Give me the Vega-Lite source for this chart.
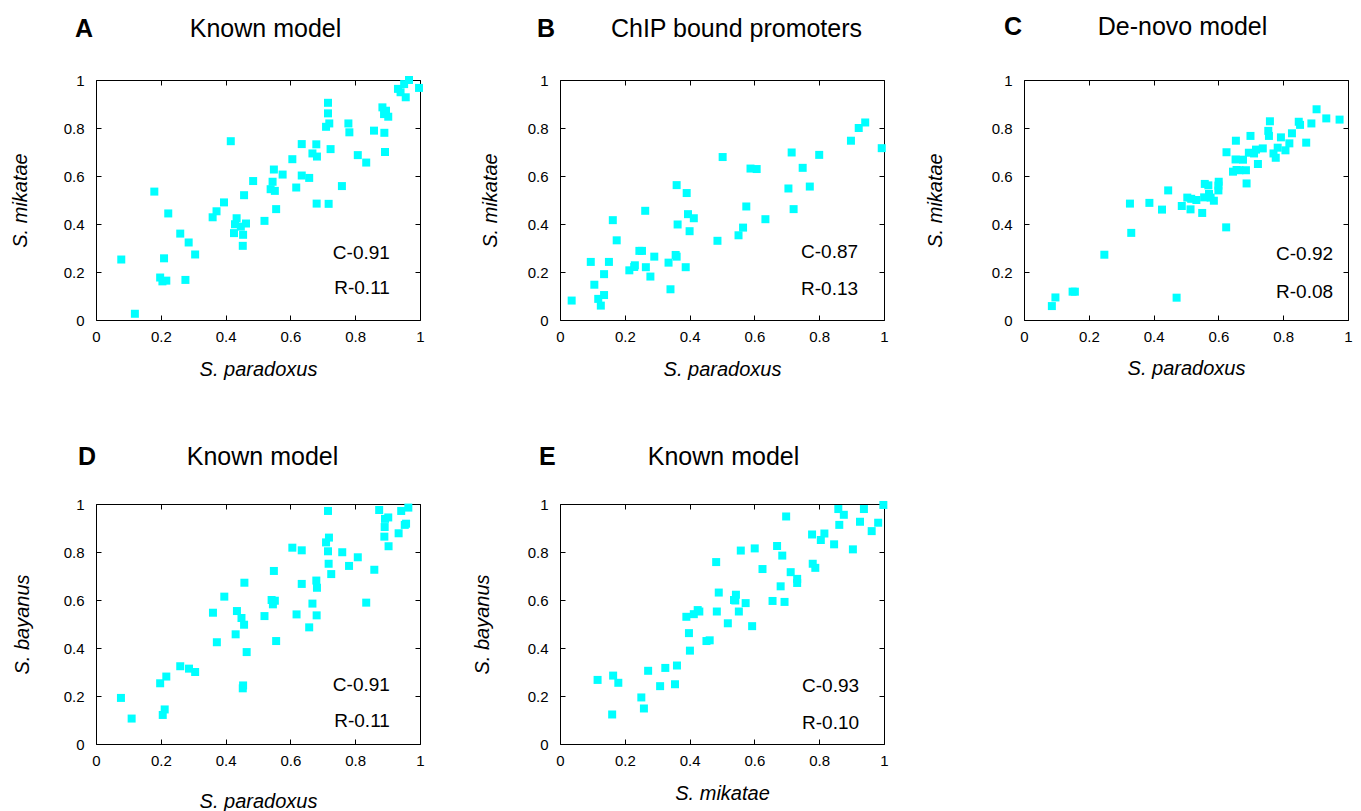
{
  "$schema": "https://vega.github.io/schema/vega-lite/v6.json",
  "padding": {"left": 10, "top": 14, "right": 5, "bottom": 5},
  "background": "white",
  "config": {
    "font": "Liberation Sans",
    "view": {"stroke": null},
    "axis": {"grid": false, "domainColor": "#000", "tickColor": "#000", "tickSize": -5, "labelColor": "#000", "labelFontSize": 15, "labelFont": "Liberation Sans", "titleFont": "Liberation Sans", "titleColor": "#000", "titleFontWeight": "normal", "labelFlush": false, "domainWidth": 1, "tickWidth": 1},
    "title": {"fontSize": 25, "fontWeight": "bold", "anchor": "start", "align": "left", "frame": "group", "baseline": "top", "offset": -25, "color": "#000", "font": "Liberation Sans"}
  },
  "datasets": {
    "A": [{"x":0.966,"y":1.0},{"x":0.951,"y":0.983},{"x":0.997,"y":0.967},{"x":0.932,"y":0.963},{"x":0.94,"y":0.949},{"x":0.956,"y":0.928},{"x":0.716,"y":0.905},{"x":0.716,"y":0.861},{"x":0.72,"y":0.819},{"x":0.71,"y":0.805},{"x":0.884,"y":0.886},{"x":0.895,"y":0.872},{"x":0.902,"y":0.847},{"x":0.889,"y":0.858},{"x":0.779,"y":0.819},{"x":0.782,"y":0.782},{"x":0.858,"y":0.789},{"x":0.89,"y":0.78},{"x":0.892,"y":0.7},{"x":0.416,"y":0.745},{"x":0.635,"y":0.733},{"x":0.68,"y":0.732},{"x":0.724,"y":0.712},{"x":0.668,"y":0.694},{"x":0.682,"y":0.681},{"x":0.606,"y":0.67},{"x":0.808,"y":0.687},{"x":0.834,"y":0.656},{"x":0.549,"y":0.627},{"x":0.576,"y":0.606},{"x":0.635,"y":0.602},{"x":0.658,"y":0.592},{"x":0.485,"y":0.579},{"x":0.545,"y":0.576},{"x":0.539,"y":0.545},{"x":0.552,"y":0.538},{"x":0.618,"y":0.552},{"x":0.759,"y":0.558},{"x":0.18,"y":0.535},{"x":0.457,"y":0.52},{"x":0.681,"y":0.485},{"x":0.718,"y":0.484},{"x":0.395,"y":0.49},{"x":0.372,"y":0.453},{"x":0.36,"y":0.428},{"x":0.556,"y":0.462},{"x":0.434,"y":0.424},{"x":0.429,"y":0.399},{"x":0.463,"y":0.402},{"x":0.447,"y":0.389},{"x":0.52,"y":0.413},{"x":0.223,"y":0.444},{"x":0.426,"y":0.362},{"x":0.454,"y":0.355},{"x":0.453,"y":0.309},{"x":0.26,"y":0.36},{"x":0.286,"y":0.323},{"x":0.306,"y":0.273},{"x":0.078,"y":0.252},{"x":0.21,"y":0.257},{"x":0.198,"y":0.177},{"x":0.205,"y":0.161},{"x":0.217,"y":0.164},{"x":0.276,"y":0.167},{"x":0.12,"y":0.026}],
    "B": [{"x":0.036,"y":0.081},{"x":0.095,"y":0.242},{"x":0.106,"y":0.147},{"x":0.118,"y":0.088},{"x":0.126,"y":0.06},{"x":0.136,"y":0.104},{"x":0.136,"y":0.191},{"x":0.151,"y":0.242},{"x":0.163,"y":0.416},{"x":0.175,"y":0.332},{"x":0.214,"y":0.207},{"x":0.231,"y":0.228},{"x":0.229,"y":0.221},{"x":0.245,"y":0.288},{"x":0.253,"y":0.288},{"x":0.263,"y":0.455},{"x":0.265,"y":0.22},{"x":0.279,"y":0.181},{"x":0.291,"y":0.264},{"x":0.335,"y":0.239},{"x":0.341,"y":0.128},{"x":0.357,"y":0.271},{"x":0.36,"y":0.264},{"x":0.36,"y":0.562},{"x":0.363,"y":0.398},{"x":0.388,"y":0.22},{"x":0.391,"y":0.529},{"x":0.395,"y":0.441},{"x":0.4,"y":0.37},{"x":0.413,"y":0.424},{"x":0.486,"y":0.33},{"x":0.502,"y":0.679},{"x":0.551,"y":0.353},{"x":0.565,"y":0.385},{"x":0.575,"y":0.473},{"x":0.588,"y":0.631},{"x":0.607,"y":0.629},{"x":0.634,"y":0.42},{"x":0.705,"y":0.548},{"x":0.715,"y":0.698},{"x":0.721,"y":0.462},{"x":0.749,"y":0.634},{"x":0.771,"y":0.556},{"x":0.8,"y":0.688},{"x":0.898,"y":0.747},{"x":0.922,"y":0.8},{"x":0.942,"y":0.823},{"x":0.993,"y":0.716}],
    "C": [{"x":0.086,"y":0.058},{"x":0.097,"y":0.094},{"x":0.15,"y":0.118},{"x":0.157,"y":0.118},{"x":0.248,"y":0.272},{"x":0.327,"y":0.485},{"x":0.331,"y":0.363},{"x":0.387,"y":0.488},{"x":0.426,"y":0.46},{"x":0.445,"y":0.54},{"x":0.471,"y":0.093},{"x":0.487,"y":0.475},{"x":0.504,"y":0.51},{"x":0.514,"y":0.461},{"x":0.516,"y":0.505},{"x":0.532,"y":0.5},{"x":0.55,"y":0.446},{"x":0.558,"y":0.567},{"x":0.569,"y":0.561},{"x":0.556,"y":0.511},{"x":0.571,"y":0.525},{"x":0.576,"y":0.51},{"x":0.586,"y":0.497},{"x":0.601,"y":0.576},{"x":0.6,"y":0.56},{"x":0.6,"y":0.54},{"x":0.625,"y":0.699},{"x":0.624,"y":0.386},{"x":0.645,"y":0.618},{"x":0.656,"y":0.625},{"x":0.653,"y":0.669},{"x":0.654,"y":0.747},{"x":0.665,"y":0.624},{"x":0.676,"y":0.668},{"x":0.685,"y":0.624},{"x":0.687,"y":0.569},{"x":0.694,"y":0.697},{"x":0.699,"y":0.767},{"x":0.71,"y":0.694},{"x":0.716,"y":0.71},{"x":0.722,"y":0.65},{"x":0.737,"y":0.715},{"x":0.759,"y":0.828},{"x":0.754,"y":0.788},{"x":0.756,"y":0.767},{"x":0.77,"y":0.694},{"x":0.777,"y":0.676},{"x":0.783,"y":0.718},{"x":0.793,"y":0.761},{"x":0.807,"y":0.707},{"x":0.819,"y":0.736},{"x":0.827,"y":0.778},{"x":0.848,"y":0.826},{"x":0.852,"y":0.813},{"x":0.871,"y":0.739},{"x":0.887,"y":0.819},{"x":0.903,"y":0.878},{"x":0.933,"y":0.84},{"x":0.974,"y":0.835}],
    "D": [{"x":0.077,"y":0.192},{"x":0.11,"y":0.106},{"x":0.198,"y":0.253},{"x":0.217,"y":0.281},{"x":0.206,"y":0.121},{"x":0.212,"y":0.144},{"x":0.26,"y":0.324},{"x":0.287,"y":0.314},{"x":0.306,"y":0.3},{"x":0.361,"y":0.547},{"x":0.373,"y":0.424},{"x":0.396,"y":0.614},{"x":0.431,"y":0.457},{"x":0.435,"y":0.554},{"x":0.449,"y":0.525},{"x":0.457,"y":0.497},{"x":0.458,"y":0.672},{"x":0.465,"y":0.383},{"x":0.454,"y":0.244},{"x":0.453,"y":0.232},{"x":0.52,"y":0.533},{"x":0.542,"y":0.6},{"x":0.546,"y":0.582},{"x":0.552,"y":0.597},{"x":0.549,"y":0.721},{"x":0.556,"y":0.429},{"x":0.606,"y":0.818},{"x":0.619,"y":0.54},{"x":0.635,"y":0.807},{"x":0.635,"y":0.667},{"x":0.658,"y":0.486},{"x":0.668,"y":0.585},{"x":0.68,"y":0.681},{"x":0.682,"y":0.651},{"x":0.681,"y":0.536},{"x":0.71,"y":0.84},{"x":0.719,"y":0.86},{"x":0.716,"y":0.971},{"x":0.716,"y":0.803},{"x":0.718,"y":0.751},{"x":0.726,"y":0.708},{"x":0.76,"y":0.799},{"x":0.781,"y":0.742},{"x":0.808,"y":0.778},{"x":0.834,"y":0.589},{"x":0.859,"y":0.726},{"x":0.874,"y":0.975},{"x":0.892,"y":0.938},{"x":0.902,"y":0.944},{"x":0.891,"y":0.904},{"x":0.89,"y":0.864},{"x":0.903,"y":0.824},{"x":0.934,"y":0.878},{"x":0.942,"y":0.971},{"x":0.953,"y":0.913},{"x":0.957,"y":0.918},{"x":0.964,"y":0.985}],
    "E": [{"x":0.116,"y":0.267},{"x":0.164,"y":0.285},{"x":0.18,"y":0.255},{"x":0.161,"y":0.123},{"x":0.251,"y":0.194},{"x":0.259,"y":0.148},{"x":0.272,"y":0.305},{"x":0.309,"y":0.241},{"x":0.325,"y":0.317},{"x":0.355,"y":0.249},{"x":0.361,"y":0.327},{"x":0.39,"y":0.53},{"x":0.398,"y":0.462},{"x":0.401,"y":0.389},{"x":0.413,"y":0.541},{"x":0.425,"y":0.558},{"x":0.43,"y":0.552},{"x":0.452,"y":0.429},{"x":0.462,"y":0.432},{"x":0.482,"y":0.758},{"x":0.484,"y":0.552},{"x":0.49,"y":0.631},{"x":0.518,"y":0.503},{"x":0.537,"y":0.6},{"x":0.543,"y":0.622},{"x":0.541,"y":0.598},{"x":0.552,"y":0.552},{"x":0.558,"y":0.806},{"x":0.573,"y":0.587},{"x":0.593,"y":0.491},{"x":0.601,"y":0.815},{"x":0.625,"y":0.729},{"x":0.656,"y":0.596},{"x":0.67,"y":0.825},{"x":0.681,"y":0.657},{"x":0.686,"y":0.785},{"x":0.693,"y":0.592},{"x":0.698,"y":0.948},{"x":0.712,"y":0.716},{"x":0.732,"y":0.688},{"x":0.732,"y":0.671},{"x":0.778,"y":0.873},{"x":0.78,"y":0.751},{"x":0.788,"y":0.734},{"x":0.805,"y":0.85},{"x":0.816,"y":0.877},{"x":0.846,"y":0.832},{"x":0.859,"y":0.979},{"x":0.862,"y":0.913},{"x":0.876,"y":0.955},{"x":0.904,"y":0.811},{"x":0.926,"y":0.926},{"x":0.938,"y":0.979},{"x":0.962,"y":0.887},{"x":0.982,"y":0.922},{"x":0.998,"y":0.996}]
  },
  "columns": 3,
  "bounds": "flush",
  "spacing": {"column": 140, "row": 184},
  "concat": [
    {
      "width": 324, "height": 240,
      "title": {"text": "A", "dx": -21},
      "data": {"name": "A"},
      "resolve": {"axis": {"x": "independent", "y": "independent"}},
      "layer": [
        {"mark": {"type": "square", "size": 64, "color": "#00FFFF", "opacity": 1},
         "encoding": {
           "x": {"field": "x", "type": "quantitative", "scale": {"domain": [0, 1], "nice": false}, "axis": {"orient": "bottom", "values": [0, 0.2, 0.4, 0.6, 0.8, 1], "format": "~g", "labelPadding": 14, "title": "S. paradoxus", "titleFontSize": 20, "titleFontStyle": "italic", "titlePadding": 15}},
           "y": {"field": "y", "type": "quantitative", "scale": {"domain": [0, 1], "nice": false}, "axis": {"orient": "left", "values": [0, 0.2, 0.4, 0.6, 0.8, 1], "format": "~g", "labelPadding": 17, "title": "S. mikatae", "titleFontSize": 20, "titleFontStyle": "italic", "titlePadding": 33}}}},
        {"mark": {"type": "point", "opacity": 0},
         "encoding": {
           "x": {"field": "x", "type": "quantitative", "axis": {"orient": "top", "values": [0, 0.2, 0.4, 0.6, 0.8, 1], "labels": false, "title": "Known model", "titleFontSize": 25, "titlePadding": 38, "titleX": 169}},
           "y": {"field": "y", "type": "quantitative", "axis": {"orient": "right", "values": [0, 0.2, 0.4, 0.6, 0.8, 1], "labels": false, "title": null}}}},
        {"data": {"values": [{"stat": "C-0.91"}]}, "mark": {"type": "text", "align": "right", "baseline": "middle", "fontSize": 19, "color": "#000"},
         "encoding": {"x": {"datum": 0.907, "type": "quantitative", "axis": null}, "y": {"datum": 0.28, "type": "quantitative", "axis": null}, "text": {"field": "stat"}}},
        {"data": {"values": [{"stat": "R-0.11"}]}, "mark": {"type": "text", "align": "right", "baseline": "middle", "fontSize": 19, "color": "#000"},
         "encoding": {"x": {"datum": 0.907, "type": "quantitative", "axis": null}, "y": {"datum": 0.132, "type": "quantitative", "axis": null}, "text": {"field": "stat"}}}
      ]
    },
    {
      "width": 324, "height": 240,
      "title": {"text": "B", "dx": -23},
      "data": {"name": "B"},
      "resolve": {"axis": {"x": "independent", "y": "independent"}},
      "layer": [
        {"mark": {"type": "square", "size": 64, "color": "#00FFFF", "opacity": 1},
         "encoding": {
           "x": {"field": "x", "type": "quantitative", "scale": {"domain": [0, 1], "nice": false}, "axis": {"orient": "bottom", "values": [0, 0.2, 0.4, 0.6, 0.8, 1], "format": "~g", "labelPadding": 14, "title": "S. paradoxus", "titleFontSize": 20, "titleFontStyle": "italic", "titlePadding": 15}},
           "y": {"field": "y", "type": "quantitative", "scale": {"domain": [0, 1], "nice": false}, "axis": {"orient": "left", "values": [0, 0.2, 0.4, 0.6, 0.8, 1], "format": "~g", "labelPadding": 17, "title": "S. mikatae", "titleFontSize": 20, "titleFontStyle": "italic", "titlePadding": 27}}}},
        {"mark": {"type": "point", "opacity": 0},
         "encoding": {
           "x": {"field": "x", "type": "quantitative", "axis": {"orient": "top", "values": [0, 0.2, 0.4, 0.6, 0.8, 1], "labels": false, "title": "ChIP bound promoters", "titleFontSize": 25, "titlePadding": 38, "titleX": 176}},
           "y": {"field": "y", "type": "quantitative", "axis": {"orient": "right", "values": [0, 0.2, 0.4, 0.6, 0.8, 1], "labels": false, "title": null}}}},
        {"data": {"values": [{"stat": "C-0.87"}]}, "mark": {"type": "text", "align": "right", "baseline": "middle", "fontSize": 19, "color": "#000"},
         "encoding": {"x": {"datum": 0.92, "type": "quantitative", "axis": null}, "y": {"datum": 0.284, "type": "quantitative", "axis": null}, "text": {"field": "stat"}}},
        {"data": {"values": [{"stat": "R-0.13"}]}, "mark": {"type": "text", "align": "right", "baseline": "middle", "fontSize": 19, "color": "#000"},
         "encoding": {"x": {"datum": 0.92, "type": "quantitative", "axis": null}, "y": {"datum": 0.13, "type": "quantitative", "axis": null}, "text": {"field": "stat"}}}
      ]
    },
    {
      "width": 324, "height": 240,
      "title": {"text": "C", "dx": -20},
      "data": {"name": "C"},
      "resolve": {"axis": {"x": "independent", "y": "independent"}},
      "layer": [
        {"mark": {"type": "square", "size": 64, "color": "#00FFFF", "opacity": 1},
         "encoding": {
           "x": {"field": "x", "type": "quantitative", "scale": {"domain": [0, 1], "nice": false}, "axis": {"orient": "bottom", "values": [0, 0.2, 0.4, 0.6, 0.8, 1], "format": "~g", "labelPadding": 14, "title": "S. paradoxus", "titleFontSize": 20, "titleFontStyle": "italic", "titlePadding": 14}},
           "y": {"field": "y", "type": "quantitative", "scale": {"domain": [0, 1], "nice": false}, "axis": {"orient": "left", "values": [0, 0.2, 0.4, 0.6, 0.8, 1], "format": "~g", "labelPadding": 17, "title": "S. mikatae", "titleFontSize": 20, "titleFontStyle": "italic", "titlePadding": 46}}}},
        {"mark": {"type": "point", "opacity": 0},
         "encoding": {
           "x": {"field": "x", "type": "quantitative", "axis": {"orient": "top", "values": [0, 0.2, 0.4, 0.6, 0.8, 1], "labels": false, "title": "De-novo model", "titleFontSize": 25, "titlePadding": 40, "titleX": 158}},
           "y": {"field": "y", "type": "quantitative", "axis": {"orient": "right", "values": [0, 0.2, 0.4, 0.6, 0.8, 1], "labels": false, "title": null}}}},
        {"data": {"values": [{"stat": "C-0.92"}]}, "mark": {"type": "text", "align": "right", "baseline": "middle", "fontSize": 19, "color": "#000"},
         "encoding": {"x": {"datum": 0.954, "type": "quantitative", "axis": null}, "y": {"datum": 0.276, "type": "quantitative", "axis": null}, "text": {"field": "stat"}}},
        {"data": {"values": [{"stat": "R-0.08"}]}, "mark": {"type": "text", "align": "right", "baseline": "middle", "fontSize": 19, "color": "#000"},
         "encoding": {"x": {"datum": 0.954, "type": "quantitative", "axis": null}, "y": {"datum": 0.116, "type": "quantitative", "axis": null}, "text": {"field": "stat"}}}
      ]
    },
    {
      "width": 324, "height": 240,
      "title": {"text": "D", "dx": -18},
      "data": {"name": "D"},
      "resolve": {"axis": {"x": "independent", "y": "independent"}},
      "layer": [
        {"mark": {"type": "square", "size": 64, "color": "#00FFFF", "opacity": 1},
         "encoding": {
           "x": {"field": "x", "type": "quantitative", "scale": {"domain": [0, 1], "nice": false}, "axis": {"orient": "bottom", "values": [0, 0.2, 0.4, 0.6, 0.8, 1], "format": "~g", "labelPadding": 14, "title": "S. paradoxus", "titleFontSize": 20, "titleFontStyle": "italic", "titlePadding": 23}},
           "y": {"field": "y", "type": "quantitative", "scale": {"domain": [0, 1], "nice": false}, "axis": {"orient": "left", "values": [0, 0.2, 0.4, 0.6, 0.8, 1], "format": "~g", "labelPadding": 17, "title": "S. bayanus", "titleFontSize": 20, "titleFontStyle": "italic", "titlePadding": 31}}}},
        {"mark": {"type": "point", "opacity": 0},
         "encoding": {
           "x": {"field": "x", "type": "quantitative", "axis": {"orient": "top", "values": [0, 0.2, 0.4, 0.6, 0.8, 1], "labels": false, "title": "Known model", "titleFontSize": 25, "titlePadding": 34, "titleX": 166}},
           "y": {"field": "y", "type": "quantitative", "axis": {"orient": "right", "values": [0, 0.2, 0.4, 0.6, 0.8, 1], "labels": false, "title": null}}}},
        {"data": {"values": [{"stat": "C-0.91"}]}, "mark": {"type": "text", "align": "right", "baseline": "middle", "fontSize": 19, "color": "#000"},
         "encoding": {"x": {"datum": 0.907, "type": "quantitative", "axis": null}, "y": {"datum": 0.247, "type": "quantitative", "axis": null}, "text": {"field": "stat"}}},
        {"data": {"values": [{"stat": "R-0.11"}]}, "mark": {"type": "text", "align": "right", "baseline": "middle", "fontSize": 19, "color": "#000"},
         "encoding": {"x": {"datum": 0.907, "type": "quantitative", "axis": null}, "y": {"datum": 0.097, "type": "quantitative", "axis": null}, "text": {"field": "stat"}}}
      ]
    },
    {
      "width": 324, "height": 240,
      "title": {"text": "E", "dx": -21},
      "data": {"name": "E"},
      "resolve": {"axis": {"x": "independent", "y": "independent"}},
      "layer": [
        {"mark": {"type": "square", "size": 64, "color": "#00FFFF", "opacity": 1},
         "encoding": {
           "x": {"field": "x", "type": "quantitative", "scale": {"domain": [0, 1], "nice": false}, "axis": {"orient": "bottom", "values": [0, 0.2, 0.4, 0.6, 0.8, 1], "format": "~g", "labelPadding": 14, "title": "S. mikatae", "titleFontSize": 20, "titleFontStyle": "italic", "titlePadding": 15}},
           "y": {"field": "y", "type": "quantitative", "scale": {"domain": [0, 1], "nice": false}, "axis": {"orient": "left", "values": [0, 0.2, 0.4, 0.6, 0.8, 1], "format": "~g", "labelPadding": 17, "title": "S. bayanus", "titleFontSize": 20, "titleFontStyle": "italic", "titlePadding": 35}}}},
        {"mark": {"type": "point", "opacity": 0},
         "encoding": {
           "x": {"field": "x", "type": "quantitative", "axis": {"orient": "top", "values": [0, 0.2, 0.4, 0.6, 0.8, 1], "labels": false, "title": "Known model", "titleFontSize": 25, "titlePadding": 34, "titleX": 163}},
           "y": {"field": "y", "type": "quantitative", "axis": {"orient": "right", "values": [0, 0.2, 0.4, 0.6, 0.8, 1], "labels": false, "title": null}}}},
        {"data": {"values": [{"stat": "C-0.93"}]}, "mark": {"type": "text", "align": "right", "baseline": "middle", "fontSize": 19, "color": "#000"},
         "encoding": {"x": {"datum": 0.923, "type": "quantitative", "axis": null}, "y": {"datum": 0.243, "type": "quantitative", "axis": null}, "text": {"field": "stat"}}},
        {"data": {"values": [{"stat": "R-0.10"}]}, "mark": {"type": "text", "align": "right", "baseline": "middle", "fontSize": 19, "color": "#000"},
         "encoding": {"x": {"datum": 0.923, "type": "quantitative", "axis": null}, "y": {"datum": 0.087, "type": "quantitative", "axis": null}, "text": {"field": "stat"}}}
      ]
    }
  ]
}
